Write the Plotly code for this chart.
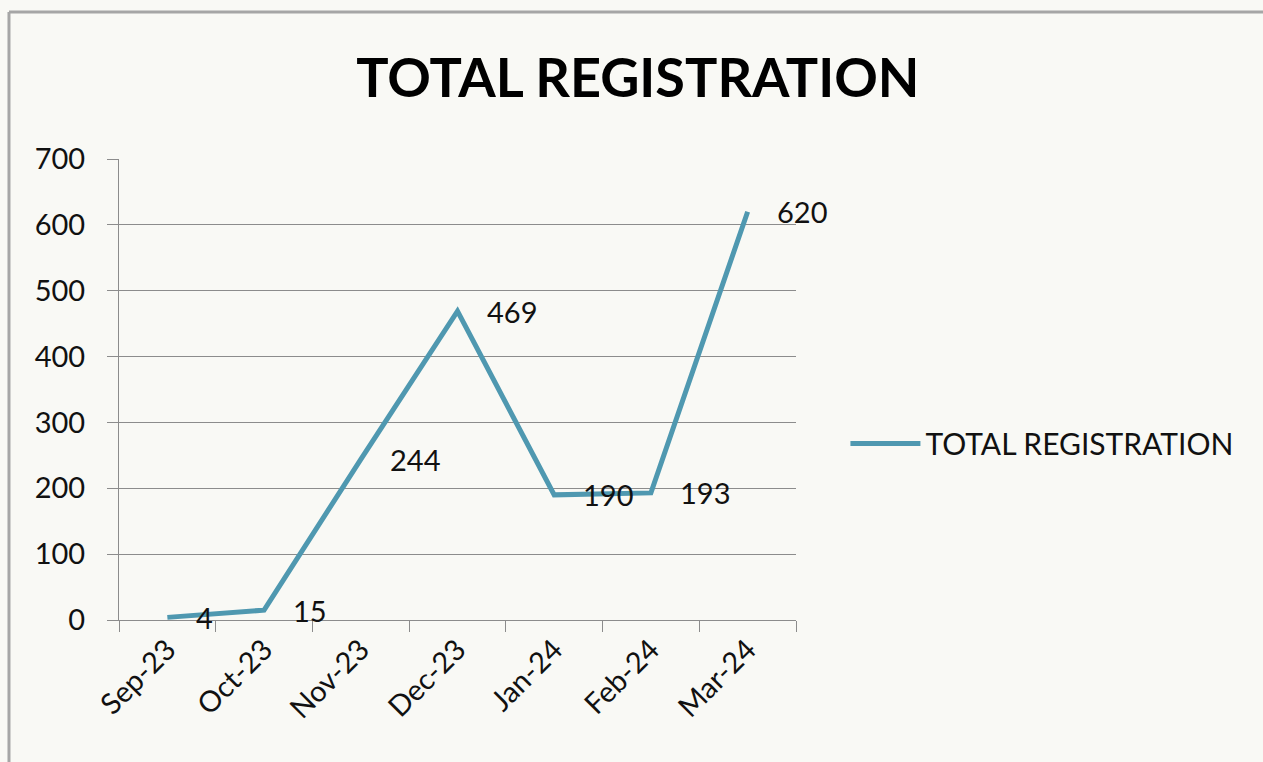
import plotly.graph_objects as go

# chart data
months = ["Sep-23", "Oct-23", "Nov-23", "Dec-23", "Jan-24", "Feb-24", "Mar-24"]
registrations = [4, 15, 244, 469, 190, 193, 620]
series_name = "TOTAL REGISTRATION"

line_color = "#4F98B0"
grid_color = "#8C8C8C"
bg_color = "#F9F9F5"
font_family = "Lato, 'Open Sans', sans-serif"
text_color = "#111111"
border_color = "#A6A6A6"

fig = go.Figure()

fig.add_trace(go.Scatter(
    x=months,
    y=registrations,
    mode="lines",
    name=series_name,
    line=dict(color=line_color, width=5),
))

# data labels, right of each point like Excel's default
for m, v in zip(months, registrations):
    fig.add_annotation(
        x=m, y=v, text=str(v), showarrow=False,
        xanchor="left", yanchor="middle", xshift=27,
        font=dict(family=font_family, size=29, color=text_color),
    )

# outer chart border: only its left and top edges are in the picture
fig.add_shape(type="line", xref="paper", yref="paper",
              x0=-0.1625, x1=-0.1625, y0=-0.4, y1=1.319,
              line=dict(color=border_color, width=3), layer="below")
fig.add_shape(type="line", xref="paper", yref="paper",
              x0=-0.1625, x1=1.8, y0=1.319, y1=1.319,
              line=dict(color=border_color, width=3), layer="below")

fig.update_layout(
    width=1263,
    height=762,
    paper_bgcolor=bg_color,
    plot_bgcolor=bg_color,
    margin=dict(l=119, r=467, t=159, b=142),
    title=dict(
        text="<b>TOTAL REGISTRATION</b>",
        x=0.505, xanchor="center", y=0.898, yanchor="middle",
        font=dict(family=font_family, size=54, color="#000000"),
    ),
    font=dict(family=font_family, size=29, color=text_color),
    showlegend=True,
    legend=dict(
        x=1.073, y=0.383, xanchor="left", yanchor="middle",
        bgcolor="rgba(0,0,0,0)", itemwidth=70,
        font=dict(family=font_family, size=30, color=text_color),
    ),
    xaxis=dict(
        type="category",
        range=[-0.5, 6.5],
        tickson="boundaries",
        ticks="outside", ticklen=11, tickcolor=grid_color, tickwidth=1,
        tickangle=-45,
        showline=True, linecolor=grid_color, linewidth=1,
        showgrid=False,
        tickfont=dict(family=font_family, size=29, color=text_color),
    ),
    yaxis=dict(
        range=[0, 700],
        dtick=100,
        ticks="outside", ticklen=11, tickcolor=grid_color, tickwidth=1,
        showline=True, linecolor=grid_color, linewidth=1,
        showgrid=True, gridcolor=grid_color, gridwidth=1,
        zeroline=False,
        ticklabelstandoff=16,
        tickfont=dict(family=font_family, size=29, color=text_color),
    ),
)

fig.write_html(
    "out.html",
    config={"displayModeBar": False},
    post_script="document.body.style.margin='0'; document.body.style.overflow='hidden';",
)
